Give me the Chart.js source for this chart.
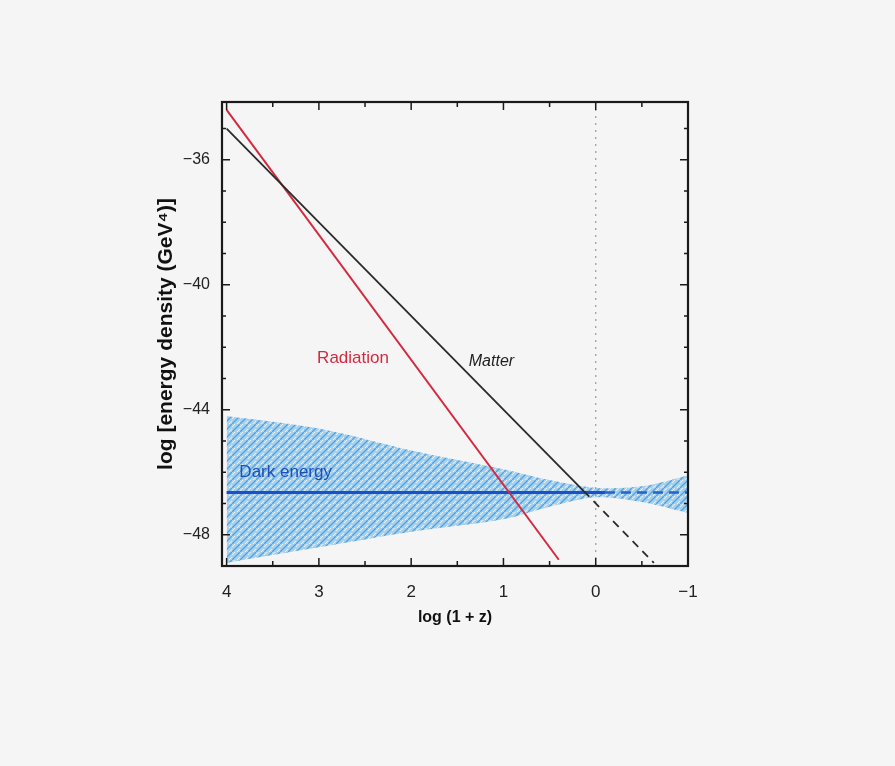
<!DOCTYPE html>
<html>
<head>
<meta charset="utf-8">
<script src="https://cdn.jsdelivr.net/npm/chart.js@4.4.1/dist/chart.umd.min.js"></script>
<style>
  html, body { margin: 0; padding: 0; background: #f5f5f5; }
  #wrap { width: 895px; height: 766px; }
</style>
</head>
<body>
<div id="wrap"><canvas id="energyChart" width="895" height="766"></canvas></div>
<script>
// axis ticks
var xTicks = [4, 3, 2, 1, 0, -1];
var yTicks = [-48, -44, -40, -36];

// dark energy uncertainty band
var bandX = [4, 3, 2, 1, 0.5, 0, -0.5, -1];
var bandUpper = [-44.2, -44.6, -45.3, -45.9, -46.25, -46.5, -46.45, -46.1];
var bandLower = [-48.9, -48.4, -47.9, -47.5, -47.1, -46.8, -46.95, -47.3];

// lines
var radiationX = [4, 0.4];
var radiationY = [-34.4, -48.8];
var matterX = [4, 0.13];
var matterY = [-35.0, -46.6];
var matterFutureX = [0.13, -0.63];
var matterFutureY = [-46.6, -48.9];
var darkX = [4, -0.1];
var darkY = [-46.65, -46.65];
var darkFutureX = [-0.1, -1];
var darkFutureY = [-46.65, -46.65];
var todayX = [0, 0];
var todayY = [-34.15, -49];

function pts(xs, ys) {
    return xs.map(function (x, i) { return { x: x, y: ys[i] }; });
}

// hatched blue texture for the band
function bandPattern() {
    var c = document.createElement('canvas');
    c.width = 8; c.height = 8;
    var g = c.getContext('2d');
    g.fillStyle = '#a6d2f0';
    g.fillRect(0, 0, 8, 8);
    g.strokeStyle = '#5aa2dc';
    g.lineWidth = 1.4;
    g.beginPath();
    g.moveTo(0, 8); g.lineTo(8, 0);
    g.stroke();
    g.strokeStyle = 'rgba(235,245,252,0.9)';
    g.lineWidth = 1;
    g.beginPath();
    g.moveTo(0, 3); g.lineTo(3, 0);
    g.moveTo(5, 8); g.lineTo(8, 5);
    g.stroke();
    return g.createPattern(c, 'repeat');
}

// frame, inward ticks and text labels
var decorations = {
    id: 'decorations',
    afterDraw: function (chart) {
        var ctx = chart.ctx;
        var a = chart.chartArea;
        var xs = chart.scales.x, ys = chart.scales.y;
        ctx.save();
        ctx.strokeStyle = '#1a1a1a';
        ctx.lineWidth = 2.2;
        ctx.strokeRect(a.left, a.top, a.right - a.left, a.bottom - a.top);

        ctx.lineWidth = 1.5;
        ctx.beginPath();
        for (var v = -1; v <= 4.001; v += 0.5) {
            var px = xs.getPixelForValue(v);
            var len = (Math.abs(v - Math.round(v)) < 0.01) ? 8 : 5;
            ctx.moveTo(px, a.bottom); ctx.lineTo(px, a.bottom - len);
            ctx.moveTo(px, a.top); ctx.lineTo(px, a.top + len);
        }
        for (var w = -49; w <= -35; w += 1) {
            var py = ys.getPixelForValue(w);
            var l2 = (w % 4 === 0) ? 8 : 4;
            ctx.moveTo(a.left, py); ctx.lineTo(a.left + l2, py);
            ctx.moveTo(a.right, py); ctx.lineTo(a.right - l2, py);
        }
        ctx.stroke();

        ctx.textBaseline = 'middle';
        ctx.textAlign = 'center';
        ctx.font = '17px "Liberation Sans Narrow", "Liberation Sans", Arial, sans-serif';
        ctx.fillStyle = '#d42a40';
        ctx.fillText('Radiation', xs.getPixelForValue(2.63), ys.getPixelForValue(-42.34));
        ctx.fillStyle = '#222222';
        ctx.font = 'italic 16px "Liberation Sans Narrow", "Liberation Sans", Arial, sans-serif';
        ctx.fillText('Matter', xs.getPixelForValue(1.13), ys.getPixelForValue(-42.45));
        ctx.fillStyle = '#1c4fb8';
        ctx.font = '17px "Liberation Sans Narrow", "Liberation Sans", Arial, sans-serif';
        ctx.fillText('Dark energy', xs.getPixelForValue(3.36), ys.getPixelForValue(-46.0));
        ctx.restore();
    }
};

var ctx = document.getElementById('energyChart').getContext('2d');
var energyChart = new Chart(ctx, {
    type: 'line',
    data: {
        datasets: [{
            label: 'band upper',
            data: pts(bandX, bandUpper),
            borderWidth: 0,
            pointRadius: 0,
            backgroundColor: bandPattern(),
            fill: '+1',
            tension: 0.3,
            order: 10
        }, {
            label: 'band lower',
            data: pts(bandX, bandLower),
            borderWidth: 0,
            pointRadius: 0,
            fill: false,
            tension: 0.3,
            order: 10
        }, {
            label: 'today',
            data: pts(todayX, todayY),
            borderColor: '#9a9a9a',
            borderWidth: 1.2,
            borderDash: [2, 5],
            pointRadius: 0,
            order: 5
        }, {
            label: 'Dark energy',
            data: pts(darkX, darkY),
            borderColor: '#1f4fc4',
            borderWidth: 3,
            pointRadius: 0,
            order: 2
        }, {
            label: 'Dark energy (future)',
            data: pts(darkFutureX, darkFutureY),
            borderColor: '#2a62c8',
            borderWidth: 2.5,
            borderDash: [10, 6],
            pointRadius: 0,
            order: 2
        }, {
            label: 'Matter',
            data: pts(matterX, matterY),
            borderColor: '#2a2a2a',
            borderWidth: 1.8,
            pointRadius: 0,
            order: 1
        }, {
            label: 'Matter (future)',
            data: pts(matterFutureX, matterFutureY),
            borderColor: '#2a2a2a',
            borderWidth: 1.8,
            borderDash: [8, 6],
            pointRadius: 0,
            order: 1
        }, {
            label: 'Radiation',
            data: pts(radiationX, radiationY),
            borderColor: '#d42a40',
            borderWidth: 2,
            pointRadius: 0,
            order: 1
        }]
    },
    options: {
        responsive: false,
        animation: false,
        layout: { padding: { left: 150, right: 207, top: 102, bottom: 135 } },
        plugins: {
            legend: { display: false },
            tooltip: { enabled: false }
        },
        scales: {
            x: {
                type: 'linear',
                reverse: true,
                min: -1,
                max: 4.05,
                afterBuildTicks: function (s) { s.ticks = xTicks.map(function (v) { return { value: v }; }); },
                afterFit: function (s) { s.height = 65; },
                grid: { display: false },
                border: { display: false },
                ticks: {
                    padding: 8,
                    color: '#222',
                    font: { family: 'Liberation Sans Narrow, Liberation Sans, Arial', size: 17 },
                    callback: function (v) { return v < 0 ? '\u2212' + Math.abs(v) : String(v); }
                },
                title: {
                    display: true,
                    text: 'log (1 + z)',
                    color: '#111',
                    padding: { top: 8 },
                    font: { family: 'Liberation Sans, Arial', size: 16, weight: 'bold' }
                }
            },
            y: {
                type: 'linear',
                min: -49,
                max: -34.15,
                afterBuildTicks: function (s) { s.ticks = yTicks.map(function (v) { return { value: v }; }); },
                afterFit: function (s) { s.width = 72; },
                grid: { display: false },
                border: { display: false },
                ticks: {
                    padding: 4,
                    color: '#222',
                    font: { family: 'Liberation Sans Narrow, Liberation Sans, Arial', size: 16 },
                    callback: function (v) { return '\u2212' + Math.abs(v); }
                },
                title: {
                    display: true,
                    text: 'log [energy density (GeV\u2074)]',
                    color: '#111',
                    padding: { bottom: 6 },
                    font: { family: 'Liberation Sans, Arial', size: 21, weight: 'bold' }
                }
            }
        }
    },
    plugins: [decorations]
});
</script>
</body>
</html>
